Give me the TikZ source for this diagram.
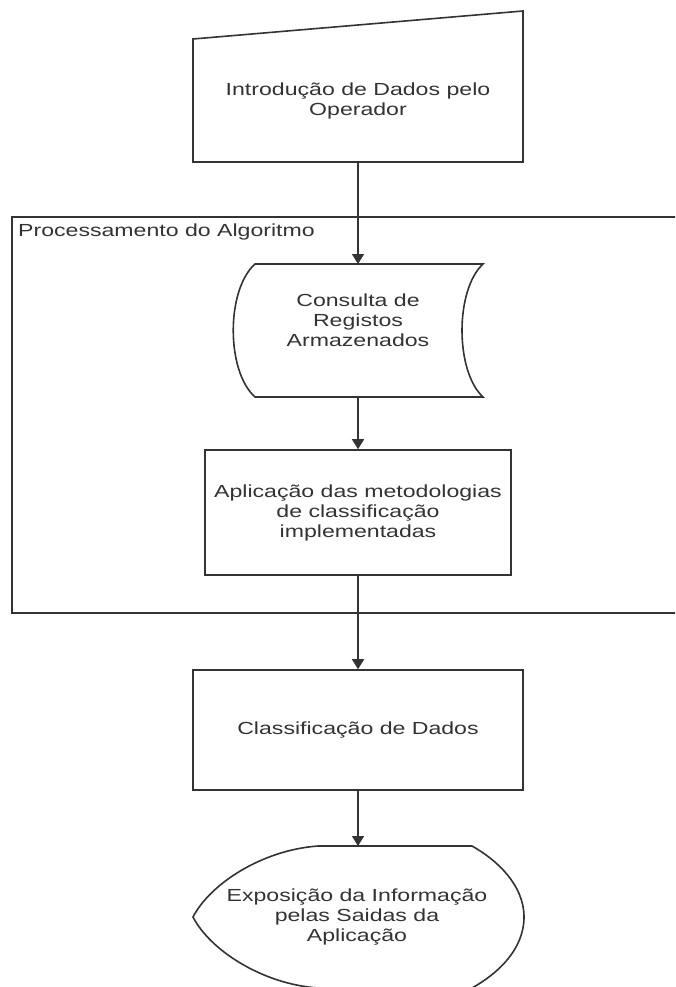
\documentclass[tikz,border=0pt]{standalone}
\usepackage{fontspec}
\newfontfamily\dfont{Liberation Sans}[FakeStretch=1.32]
\usetikzlibrary{arrows.meta}
\definecolor{ln}{HTML}{333333}
\definecolor{tx}{HTML}{333333}
\tikzset{
  shp/.style={draw=ln, line width=1.6pt, line join=miter, fill=white},
  lbl/.style={text=tx, align=center, font=\dfont\fontsize{17.5}{20}\selectfont, inner sep=0pt},
  proc/.style={shp, lbl, inner sep=0pt},
  conn/.style={draw=ln, line width=1.6pt, -{Triangle[length=10pt,width=12pt]}},
}
\begin{document}
\begin{tikzpicture}[x=1pt,y=-1pt]
\useasboundingbox (0,0) rectangle (675,987);
\clip (0,0) rectangle (675,987);
% container
\draw[draw=ln, line width=1.6pt] (12,217) rectangle (678,613);
\node[lbl, anchor=west] (contlbl) at (18,232) {Processamento do Algoritmo};
% manual input
\draw[shp] (193,39) -- (523,11) -- (523,162) -- (193,162) -- cycle;
\node[lbl] (intro) at (358,101) {Introdução de Dados pelo\\Operador};
\coordinate (introB) at (358,162);
% stored data
\draw[shp] (255,264) -- (483,264) .. controls (455,290) and (455,371) .. (483,397)
  -- (255,397) .. controls (226,371) and (226,290) .. cycle;
\node[lbl] (cons) at (358,320) {Consulta de\\Registos\\Armazenados};
\coordinate (consT) at (358,264);
\coordinate (consB) at (358,397);
% process
\node[proc, minimum width=306pt, minimum height=125pt] (apl) at (358,512.5)
  {Aplicação das metodologias\\de classificação\\implementadas};
\node[proc, minimum width=330pt, minimum height=120pt] (cls) at (358,730)
  {Classificação de Dados};
% display
\draw[shp] (318,846) -- (472,846) .. controls (497,860) and (524,885) .. (524,917)
  .. controls (524,950) and (497,974) .. (472,988) -- (318,988)
  .. controls (262,984) and (210,950) .. (193,917)
  .. controls (210,884) and (262,850) .. cycle;
\node[lbl] (disp) at (357,917) {Exposição da Informação\\pelas Saidas da\\Aplicação};
\coordinate (dispT) at (358,846);
% connectors
\draw[conn] (introB) -- (consT);
\draw[conn] (consB) -- (apl.north);
\draw[conn] (apl.south) -- (cls.north);
\draw[conn] (cls.south) -- (dispT);
\end{tikzpicture}
\end{document}
